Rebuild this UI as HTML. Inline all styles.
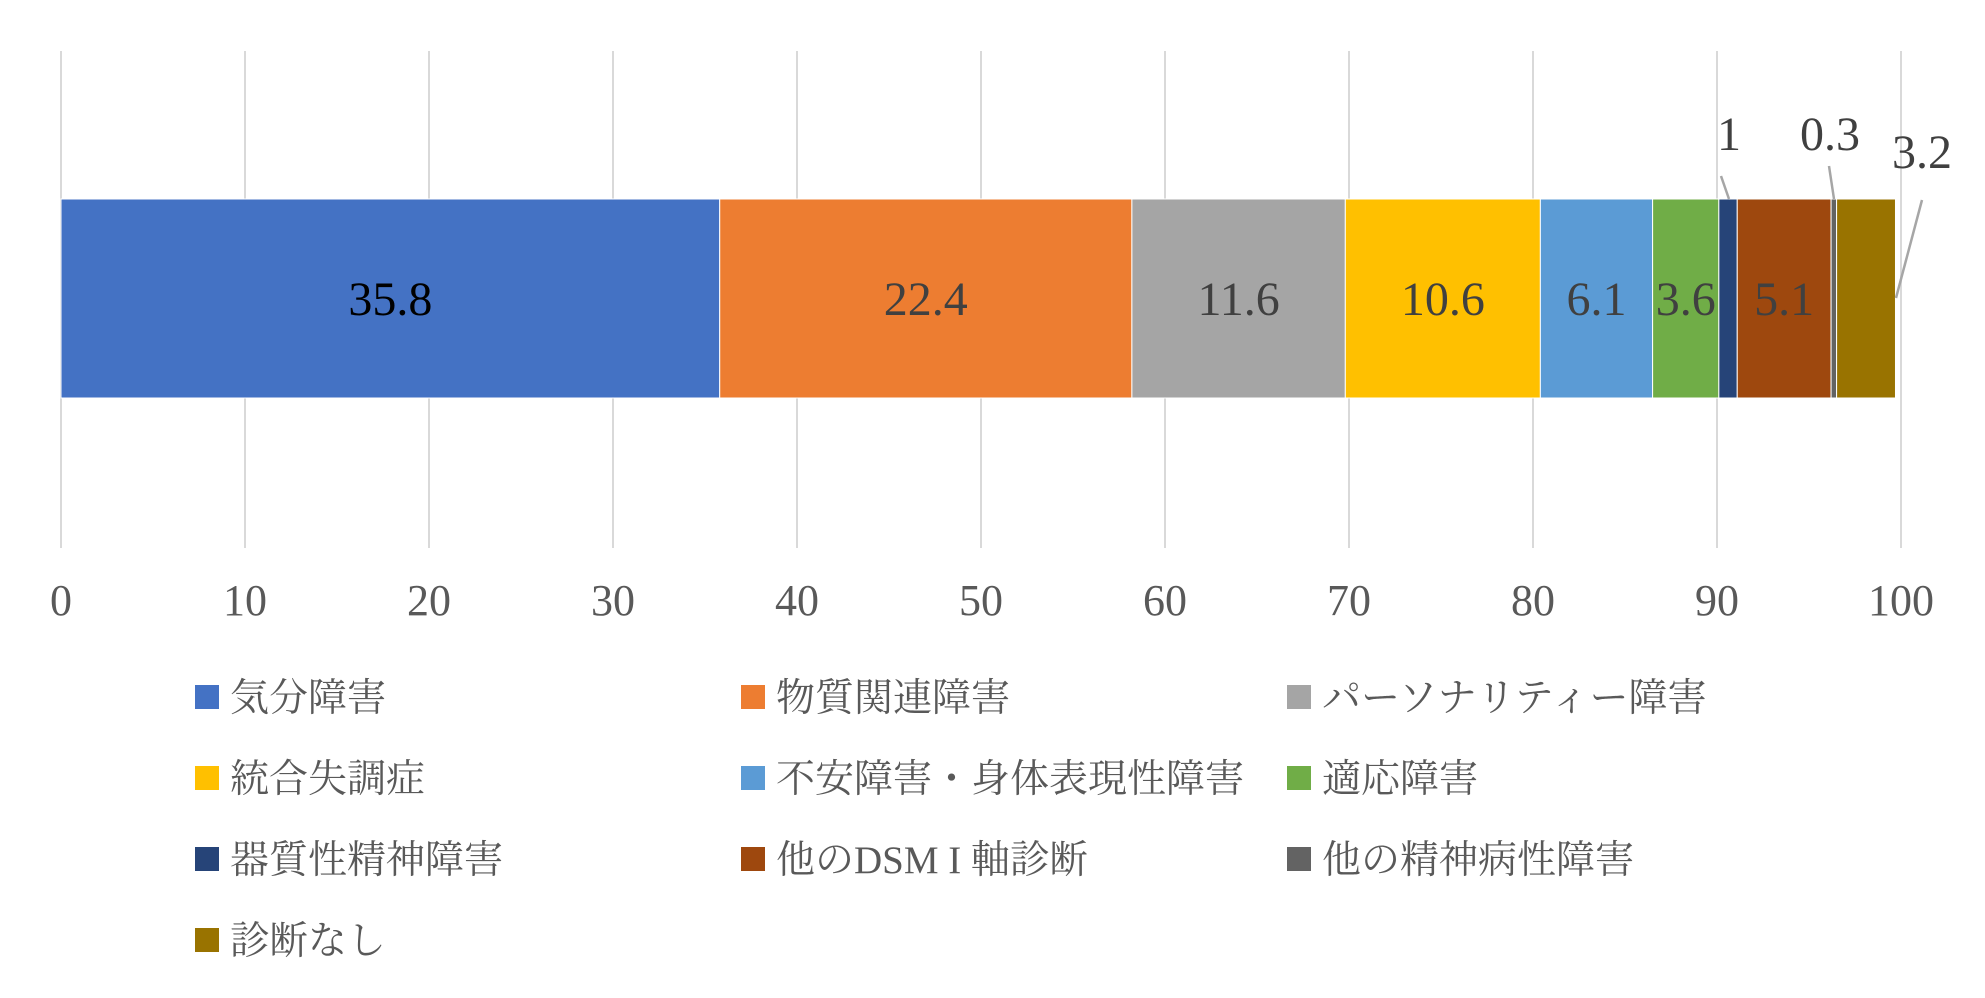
<!DOCTYPE html>
<html><head><meta charset="utf-8"><style>
html,body{margin:0;padding:0;background:#fff;width:1985px;height:998px;overflow:hidden}
svg{display:block;font-family:"Liberation Serif","Noto Serif CJK JP",serif}
</style></head><body>
<svg id="chart" width="1985" height="998" viewBox="0 0 1985 998" xmlns="http://www.w3.org/2000/svg">
<g id="grid"></g>
<g id="bars"></g>
<g id="labels"></g>
<g id="ticks"></g>
<g id="legend"></g>
</svg>
<script>
const categories = ["気分障害","物質関連障害","パーソナリティー障害","統合失調症","不安障害・身体表現性障害","適応障害","器質性精神障害","他のDSM I 軸診断","他の精神病性障害","診断なし"];
const values = [35.8,22.4,11.6,10.6,6.1,3.6,1,5.1,0.3,3.2];
const colors = ["#4472C4","#ED7D31","#A5A5A5","#FFC000","#5B9BD5","#70AD47","#264478","#9E480E","#636363","#997300"];
const tickLabels = [0,10,20,30,40,50,60,70,80,90,100];

const NS="http://www.w3.org/2000/svg";
const x0=61, xScale=18.4; // px per unit
const xPos=v=>x0+v*xScale;
const barTop=199, barBot=398;
function mk(tag,attrs,parent){const e=document.createElementNS(NS,tag);for(const k in attrs)e.setAttribute(k,attrs[k]);parent.appendChild(e);return e;}

const grid=document.getElementById('grid');
const ticks=document.getElementById('ticks');
tickLabels.forEach(t=>{
  const l=mk('line',{x1:xPos(t),x2:xPos(t),y1:51,y2:548,stroke:'#D9D9D9','stroke-width':2},grid);
  
  
  const tx=mk('text',{x:xPos(t),y:615,'text-anchor':'middle','font-size':44,fill:'#595959'},ticks);
  tx.textContent=t;
  
  
});

const bars=document.getElementById('bars');
const labels=document.getElementById('labels');
let cum=0;
const outside={6:{lx:1729,ly:150,tx:1721,ty:176,bx:1729,by:199},8:{lx:1830,ly:150,tx:1829,ty:166,bx:1834,by:199},9:{lx:1922,ly:168,tx:1922,ty:200,bx:1896,by:298}};
values.forEach((v,i)=>{
  const xa=xPos(cum), xb=xPos(cum+v);
  const r=mk('rect',{x:xa,y:barTop,width:xb-xa,height:barBot-barTop,fill:colors[i],stroke:'#fff','stroke-width':1},bars);
  
  
  if(outside[i]){
    const o=outside[i];
    const ln=mk('line',{x1:o.tx,y1:o.ty,x2:o.bx,y2:o.by,stroke:'#A6A6A6','stroke-width':2.5},labels);
    
    
    const t=mk('text',{x:o.lx,y:o.ly,'text-anchor':'middle','font-size':48,fill:'#404040'},labels);
    t.textContent=v;
    
    
  } else {
    const t=mk('text',{x:(xa+xb)/2,y:315,'text-anchor':'middle','font-size':48,fill:i===0?'#000':'#404040'},labels);
    t.textContent=v;
    
    
  }
  cum+=v;
});

const legend=document.getElementById('legend');
const colX=[195,741,1287], rowY=[697,778,859,940];
categories.forEach((c,i)=>{
  const cx=colX[i%3], cy=rowY[Math.floor(i/3)];
  const g=mk('g',{},legend);
  
  
  const s=mk('rect',{x:cx,y:cy-12,width:24,height:24,fill:colors[i]},g);
  
  
  const t=mk('text',{x:cx+35,y:cy+14,'font-size':39,fill:'#595959'},g);
  t.textContent=c;
  
  
});
</script>
</body></html>
